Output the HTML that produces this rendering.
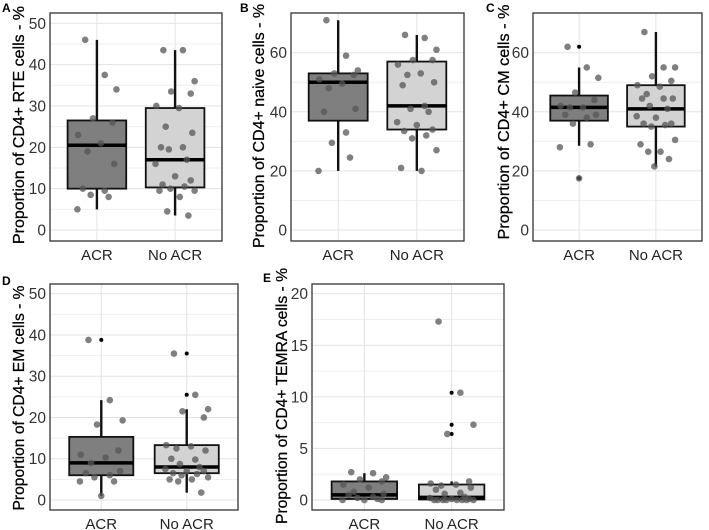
<!DOCTYPE html>
<html><head><meta charset="utf-8"><style>
body{margin:0;background:#fff;}
svg{display:block;font-family:"Liberation Sans",Arial,sans-serif;}
</style></head><body>
<svg id="fig" width="709" height="530" viewBox="0 0 709 530"></svg>
<script>
const categories = ["ACR","No ACR"];
// Panel A
const aTicks=[0,10,20,30,40,50];
const aBoxACR=[5,10,20.5,26.5,46]; const aBoxNo=[3.5,10.3,17,29.5,43.5];
const aPtsACR=[46,37.5,34,27,26,23,21,19,16,10,9.5,8.5,8,5];
const aPtsNo=[43.5,43.5,36,33.5,33,30,29.5,25,23.5,20,20,19.5,17,16,13,12,11,10.5,10,9.5,9.5,8,4.5,3.5];
const aOutACR=[]; const aOutNo=[];
// Panel B
const bTicks=[0,20,40,60];
const bBoxACR=[20,37,50,53,71]; const bBoxNo=[20,34,42,57,66];
const bPtsACR=[71,59,54,53,52.5,51,49.5,48,41,40,33,29.5,24.5,20];
const bPtsNo=[66,65,61,57.5,57.5,56,53,52.5,50,49,42,41,40,36.5,35.5,34,33.5,32,31,27,21,20];
const bOutACR=[]; const bOutNo=[];
// Panel C
const cTicks=[0,20,40,60];
const cBoxACR=[28.5,37,41.5,45.5,55]; const cBoxNo=[21.5,35,41,49,67];
const cPtsACR=[62,55,51.5,46.5,44,42,41.5,41.5,39,39,38,36,29,28,17.5];
const cPtsNo=[67,55,55,52,50.5,49,48.5,46,44.5,44.5,44.5,42,41,38.5,38,36,36,35.5,35,30.5,29,26.5,26.5,24,21.5];
const cOutACR=[62,17.5]; const cOutNo=[];
// Panel D
const dTicks=[0,10,20,30,40,50];
const dBoxACR=[1,6,9,15.3,24.2]; const dBoxNo=[1.8,6.5,8,13.3,22];
const dPtsACR=[38.8,24.2,19.3,18.3,12,11,10.3,9,7,6.5,6,5.5,4.5,4.5,1];
const dPtsNo=[35.5,25.5,22,21.5,20,13.3,13,12.5,12,10,9.8,8.7,8,7.5,7,7,6.5,6.3,6,5.5,5,5,4.5,1.8];
const dOutACR=[38.8]; const dOutNo=[35.5,25.5];
// Panel E
const eTicks=[0,5,10,15,20];
const eBoxACR=[0,0.1,0.5,1.8,2.6]; const eBoxNo=[0,0.05,0.25,1.5,1.8];
const ePtsACR=[2.7,2.6,2.2,2,1.8,1.5,1.2,0.8,0.6,0.5,0.3,0.2,0.1,0,0,0];
const ePtsNo=[17.3,10.4,7.3,6.4,1.8,1.6,1.5,1.4,1.2,1,0.7,0.6,0.3,0.2,0.1,0.1,0,0,0,0,0,0,0,0];
const eOutACR=[]; const eOutNo=[10.4,7.3,6.4];

const jitter=[-0.15,0.1,0.25,-0.05,0.2,-0.24,0.05,-0.12,0.22,-0.18,0.1,-0.08,0.15,-0.25,0.0,0.2,-0.16,0.12,-0.06,0.25,-0.2,0.06,-0.1,0.17,-0.02];

const NS="http://www.w3.org/2000/svg";
const svg=document.getElementById('fig');
function mk(tag,attrs,parent){const e=document.createElementNS(NS,tag);for(const k in attrs)e.setAttribute(k,attrs[k]);(parent||svg).appendChild(e);return e;}

function panel(o){
  const g=mk('g',{});
  
  
  const max=o.ticks[o.ticks.length-1];
  const y=v=>o.y0-(v/max)*(o.y0-o.yMax);
  const unit=(o.x1-o.x0)/2.2;
  const x=i=>o.x0+(0.6+i)*unit;
  for(let i=0;i<o.ticks.length;i++){
    const gl=mk('line',{x1:o.x0,x2:o.x1,y1:y(o.ticks[i]),y2:y(o.ticks[i]),stroke:'#e3e3e3','stroke-width':1},g);
    
    
    if(i<o.ticks.length-1){const m=(o.ticks[i]+o.ticks[i+1])/2;
      const ml=mk('line',{x1:o.x0,x2:o.x1,y1:y(m),y2:y(m),stroke:'#efefef','stroke-width':1},g);
      
      }
    const tl=mk('text',{x:o.x0-4,y:y(o.ticks[i])+5.5,'text-anchor':'end','font-size':15.5,fill:'#333'},g);
    tl.textContent=o.ticks[i];
    
    
  }
  for(let i=0;i<2;i++){
    const vl=mk('line',{x1:x(i),x2:x(i),y1:o.yTop,y2:o.yBot,stroke:'#e3e3e3','stroke-width':1},g);
    
    
  }
  const boxes=[o.boxA,o.boxN], pts=[o.ptsA,o.ptsN], outs=[o.outA,o.outN], fills=['#7f7f7f','#d3d3d3'];
  const hw=unit*0.375;
  for(let i=0;i<2;i++){
    const b=boxes[i];
    const w=mk('line',{x1:x(i),x2:x(i),y1:y(b[0]),y2:y(b[4]),stroke:'#111','stroke-width':2.4},g);
    
    
    const r=mk('rect',{x:x(i)-hw,y:y(b[3]),width:2*hw,height:Math.max(1,y(b[1])-y(b[3])),fill:fills[i],stroke:'#111','stroke-width':1.8},g);
    
    
    const md=mk('line',{x1:x(i)-hw,x2:x(i)+hw,y1:y(b[2]),y2:y(b[2]),stroke:'#000','stroke-width':3.5},g);
    
    
    outs[i].forEach(v=>{const c=mk('circle',{cx:x(i),cy:y(v),r:2,fill:'#000'},g);
      
      });
    pts[i].forEach((v,k)=>{const c=mk('circle',{cx:x(i)+jitter[k%jitter.length]*unit,cy:y(v),r:3.3,fill:'#555','fill-opacity':0.75},g);
      
      });
    const xl=mk('text',{x:x(i),y:o.yBot+19,'text-anchor':'middle','font-size':15,fill:'#222'},g);
    xl.textContent=categories[i];
    
    
  }
  const fr=mk('rect',{x:o.x0,y:o.yTop,width:o.x1-o.x0,height:o.yBot-o.yTop,fill:'none',stroke:'#333','stroke-width':1.3},g);
  
  
  const t=mk('text',{transform:`translate(${o.tx},${o.tc}) rotate(-90)`,'text-anchor':'middle','font-size':15.5,fill:'#000',stroke:'#000','stroke-width':0.25,textLength:o.tl,lengthAdjust:'spacingAndGlyphs'},g);
  t.textContent=o.title;
  
  
  const lab=mk('text',{x:o.lx,y:o.ly,'font-size':12,'font-weight':'bold',fill:'#000'},g);
  lab.textContent=o.id;
  
  
}
panel({id:'A',x0:50,x1:222,yTop:13,yBot:241,y0:230,yMax:23.3,ticks:aTicks,boxA:aBoxACR,boxN:aBoxNo,ptsA:aPtsACR,ptsN:aPtsNo,outA:aOutACR,outN:aOutNo,title:'Proportion of CD4+ RTE cells - %',tx:24,tc:125,tl:238,lx:2,ly:12});
panel({id:'B',x0:291,x1:464,yTop:13,yBot:241,y0:230,yMax:52.7,ticks:bTicks,boxA:bBoxACR,boxN:bBoxNo,ptsA:bPtsACR,ptsN:bPtsNo,outA:bOutACR,outN:bOutNo,title:'Proportion of CD4+ naive cells - %',tx:264,tc:126,tl:244,lx:240,ly:12});
panel({id:'C',x0:533,x1:702,yTop:13,yBot:241,y0:230,yMax:52.7,ticks:cTicks,boxA:cBoxACR,boxN:cBoxNo,ptsA:cPtsACR,ptsN:cPtsNo,outA:cOutACR,outN:cOutNo,title:'Proportion of CD4+ CM cells - %',tx:509,tc:122,tl:235,lx:486,ly:12});
panel({id:'D',x0:50,x1:238,yTop:284,yBot:510,y0:500,yMax:293.7,ticks:dTicks,boxA:dBoxACR,boxN:dBoxNo,ptsA:dPtsACR,ptsN:dPtsNo,outA:dOutACR,outN:dOutNo,title:'Proportion of CD4+ EM cells - %',tx:24,tc:398,tl:225,lx:2,ly:285});
panel({id:'E',x0:312,x1:504,yTop:284,yBot:510,y0:500,yMax:293.7,ticks:eTicks,boxA:eBoxACR,boxN:eBoxNo,ptsA:ePtsACR,ptsN:ePtsNo,outA:eOutACR,outN:eOutNo,title:'Proportion of CD4+ TEMRA cells - %',tx:287,tc:396,tl:256,lx:263,ly:282});
</script>
</body></html>
